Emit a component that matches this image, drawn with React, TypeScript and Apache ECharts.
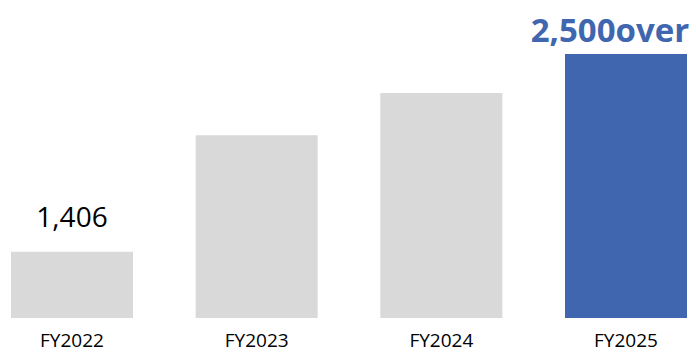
import React, { useEffect, useRef } from "react";
import * as echarts from "echarts";

const categories = ["FY2022", "FY2023", "FY2024", "FY2025"];
const values = [1406, 2050, 2285, 2500];
const labelTexts = ["1,406", "", "", "2,500over"];

const GRAY = "#D9D9D9";
const BLUE = "#4166B0";
const FONT = "'Open Sans', 'Noto Sans', sans-serif";

export default function App() {
  const ref = useRef<HTMLDivElement>(null);

  useEffect(() => {
    if (!ref.current) return;
    const chart = echarts.init(ref.current, undefined, { renderer: "svg" });

    const data = values.map((v, i) => {
      const highlight = i === values.length - 1;
      const item: any = {
        value: v,
        itemStyle: { color: highlight ? BLUE : GRAY },
      };
      if (labelTexts[i]) {
        item.label = {
          show: true,
          position: "top",
          formatter: labelTexts[i],
          fontFamily: FONT,
          color: highlight ? BLUE : "#000",
          fontSize: highlight ? 33 : 28,
          fontWeight: highlight ? "bold" : "normal",
          distance: highlight ? 8 : 22,
          offset: highlight ? [-16, 0] : [0, 0],
        };
      }
      return item;
    });

    chart.setOption({
      animation: false,
      backgroundColor: "#fff",
      grid: { left: 72, right: 70, top: 54, bottom: 34, containLabel: false },
      xAxis: {
        type: "category",
        data: categories,
        boundaryGap: false,
        axisLine: { show: false },
        axisTick: { show: false },
        axisLabel: {
          color: "#000",
          fontFamily: FONT,
          fontSize: 19,
          lineHeight: 20,
          margin: 12,
        },
      },
      yAxis: {
        type: "value",
        min: 1040,
        max: 2500,
        show: false,
        splitLine: { show: false },
      },
      series: [
        {
          type: "bar",
          data,
          barWidth: 122,
          clip: true,
        },
      ],
    });

    return () => chart.dispose();
  }, []);

  return (
    <div
      ref={ref}
      style={{ position: "fixed", left: 0, top: 0, width: 696, height: 352 }}
    />
  );
}
